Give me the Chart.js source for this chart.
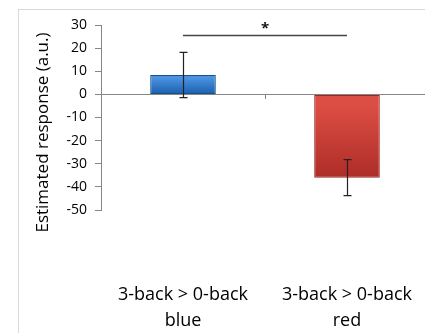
<!DOCTYPE html>
<html>
<head>
<meta charset="utf-8">
<script src="https://cdn.jsdelivr.net/npm/chart.js@4/dist/chart.umd.min.js"></script>
<style>
  body { margin: 0; background: #fff; overflow: hidden; }
  #frame { position: absolute; left: 18px; top: 9px; width: 406px; height: 400px; border: 1px solid #d9d9d9; }
  #wrap { position: absolute; left: 0; top: 0; width: 440px; height: 333px; }
</style>
</head>
<body>
<div id="frame"></div>
<div id="wrap"><canvas id="canvas"></canvas></div>
<script>
  // data
  var categories = [['3-back > 0-back', 'blue'], ['3-back > 0-back', 'red']];
  var responses = [8.4, -36];
  var errors = [9.8, 7.8];
  var yTicks = [30, 20, 10, 0, -10, -20, -30, -40, -50];
  var sigLevel = 25.5;
  var sigLabel = '*';
  var yTitle = 'Estimated response (a.u.)';

  var topColors = ['#4b92e0', '#dc4d43'];
  var bottomColors = ['#1a5eae', '#ad2d27'];
  var edgeColors = ['#17508f', '#9a2822'];

  function barFill(context)
  {
    var chart = context.chart;
    var i = context.dataIndex;
    var y = chart.scales && chart.scales.y;
    if (!chart.chartArea || !y) return bottomColors[i];
    var y0 = y.getPixelForValue(Math.max(responses[i], 0));
    var y1 = y.getPixelForValue(Math.min(responses[i], 0));
    var g = chart.ctx.createLinearGradient(0, y0, 0, y1);
    g.addColorStop(0, topColors[i]);
    g.addColorStop(0.15, topColors[i]);
    g.addColorStop(1, bottomColors[i]);
    return g;
  }

  //error bars, significance line and the y title
  var extras = {
    id: 'extras',
    afterDatasetsDraw: function(chart)
    {
      var ctx = chart.ctx;
      var y = chart.scales.y;
      var meta = chart.getDatasetMeta(0);
      ctx.save();
      ctx.strokeStyle = '#222';
      ctx.lineWidth = 1.2;
      for (var i = 0; i < meta.data.length; i++)
      {
        var x = Math.round(meta.data[i].x) + 0.5;
        var hi = y.getPixelForValue(responses[i] + errors[i]);
        var lo = y.getPixelForValue(responses[i] - errors[i]);
        ctx.beginPath();
        ctx.moveTo(x, hi); ctx.lineTo(x, lo);
        ctx.moveTo(x - 4, hi); ctx.lineTo(x + 4, hi);
        ctx.moveTo(x - 4, lo); ctx.lineTo(x + 4, lo);
        ctx.stroke();
      }
      var sy = Math.round(y.getPixelForValue(sigLevel)) + 0.5;
      var xa = meta.data[0].x, xb = meta.data[1].x;
      ctx.strokeStyle = '#444';
      ctx.lineWidth = 1.5;
      ctx.beginPath();
      ctx.moveTo(xa, sy); ctx.lineTo(xb, sy);
      ctx.stroke();
      ctx.fillStyle = '#111';
      ctx.font = 'bold 15px "Open Sans"';
      ctx.textAlign = 'center';
      ctx.textBaseline = 'middle';
      ctx.fillText(sigLabel, (xa + xb) / 2, sy - 7);

      // title centred on plot + label area like the original
      var area = chart.chartArea;
      ctx.translate(43, (area.top + area.bottom) / 2 + 15);
      ctx.rotate(-Math.PI / 2);
      ctx.font = '17px "Open Sans"';
      ctx.fillStyle = '#000';
      ctx.fillText(yTitle, 0, 0);
      ctx.restore();
    }
  };

  var ctx = document.getElementById('canvas').getContext('2d');
  window.myBar = new Chart(ctx, {
    type: 'bar',
    data: {
      labels: categories,
      datasets: [
        {
          label: 'Estimated response',
          data: responses,
          backgroundColor: barFill,
          borderColor: edgeColors,
          borderWidth: 1,
          borderSkipped: false,
          barPercentage: 0.8,
          categoryPercentage: 0.5
        }
      ]
    },
    options: {
      responsive: true,
      maintainAspectRatio: false,
      animation: false,
      layout: { padding: { top: 25, right: 11, left: 0, bottom: 0 } },
      plugins: {
        legend: { display: false },
        tooltip: { enabled: false }
      },
      scales: {
        x: {
          position: 'bottom',
          grid: { display: false, drawTicks: false },
          border: { display: false },
          ticks: {
            color: '#000',
            padding: 72,
            maxRotation: 0,
            font: { family: 'Open Sans', size: 18, lineHeight: 1.45 }
          },
          afterFit: function(scale) {
            scale.height = 123;
            scale.paddingLeft = 0;
            scale.paddingRight = 0;
          }
        },
        x2: {
          type: 'category',
          labels: categories,
          position: { y: 0 },
          offset: true,
          grid: { offset: true, drawOnChartArea: false, tickLength: 4, color: '#868686' },
          border: { color: '#868686' },
          ticks: { display: false }
        },
        y: {
          min: -50,
          max: 30,
          afterBuildTicks: function(scale) {
            scale.ticks = yTicks.map(function(v) { return { value: v }; });
          },
          grid: { drawOnChartArea: false, tickLength: 6, color: '#868686' },
          border: { color: '#868686' },
          ticks: {
            color: '#000',
            padding: 8,
            font: { family: 'Open Sans', size: 14 }
          },
          afterFit: function(scale) { scale.width = 101; }
        }
      }
    },
    plugins: [extras]
  });
</script>
</body>
</html>
